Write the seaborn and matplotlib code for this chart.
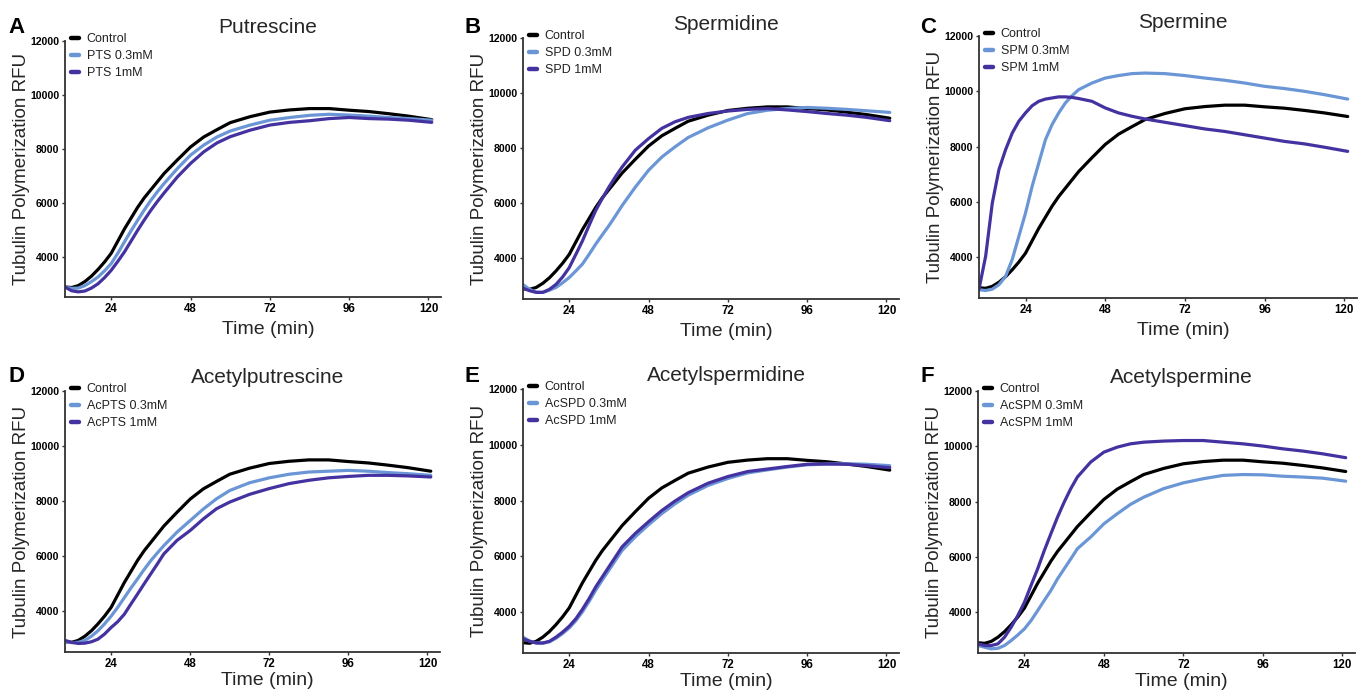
import matplotlib
matplotlib.use("Agg")
import matplotlib.pyplot as plt
import seaborn as sns
import pandas as pd
from matplotlib import font_manager

# ---------------- data ----------------
time_min = [10, 12, 14, 16, 18, 20, 22, 24, 26, 28, 30, 32, 34, 36, 38, 40,
            44, 48, 52, 56, 60, 66, 72, 78, 84, 90, 96, 102, 108, 114, 121]

control = [2900, 2880, 2950, 3100, 3300, 3550, 3830, 4150, 4600, 5050, 5450, 5850, 6200, 6500, 6800, 7100,
           7600, 8080, 8450, 8720, 8980, 9200, 9370, 9450, 9500, 9500, 9440, 9390, 9310, 9220, 9090]

pts_03 = [2900, 2850, 2860, 2950, 3100, 3270, 3500, 3770, 4150, 4570, 4980, 5370, 5750, 6110, 6430, 6730,
          7280, 7780, 8150, 8450, 8670, 8890, 9070, 9170, 9250, 9290, 9260, 9220, 9170, 9130, 9070]
pts_1 = [2900, 2760, 2720, 2750, 2860, 3020, 3250, 3520, 3850, 4200, 4600, 5000, 5380, 5740, 6070, 6380,
         6970, 7470, 7900, 8230, 8460, 8700, 8890, 8990, 9050, 9130, 9170, 9130, 9110, 9070, 8990]

spd_03 = [3050, 2880, 2780, 2770, 2850, 2950, 3120, 3310, 3550, 3800, 4150, 4520, 4860, 5190, 5550, 5920,
          6590, 7200, 7680, 8050, 8390, 8740, 9020, 9260, 9380, 9440, 9480, 9450, 9410, 9360, 9300]
spd_1 = [2920, 2830, 2770, 2770, 2880, 3060, 3330, 3670, 4150, 4640, 5200, 5740, 6180, 6590, 6970, 7320,
         7930, 8350, 8720, 8960, 9120, 9260, 9350, 9410, 9440, 9390, 9330, 9260, 9200, 9120, 9000]

spm_03 = [2830, 2800, 2850, 3010, 3310, 3920, 4760, 5600, 6570, 7410, 8250, 8800, 9220, 9580, 9840, 10060,
          10300, 10480, 10570, 10640, 10660, 10640, 10570, 10480, 10400, 10300, 10180, 10100, 10000, 9880, 9720]
spm_1 = [2850, 4040, 5960, 7170, 7890, 8490, 8920, 9220, 9480, 9640, 9720, 9760, 9800, 9800, 9780, 9740,
         9640, 9400, 9220, 9100, 9000, 8880, 8760, 8640, 8550, 8430, 8310, 8190, 8100, 7980, 7830]

acpts_03 = [2900, 2870, 2880, 2950, 3100, 3300, 3550, 3830, 4150, 4500, 4850, 5180, 5520, 5840, 6120, 6390,
            6880, 7300, 7720, 8090, 8390, 8670, 8850, 8980, 9060, 9090, 9120, 9090, 9040, 9000, 8940]
acpts_1 = [2950, 2880, 2840, 2850, 2900, 2995, 3180, 3420, 3630, 3900, 4270, 4630, 5000, 5360, 5720, 6090,
           6580, 6940, 7360, 7730, 7970, 8250, 8460, 8640, 8760, 8850, 8900, 8940, 8940, 8920, 8880]

acspd_03 = [3100, 2960, 2890, 2880, 2930, 3060, 3230, 3430, 3690, 4010, 4380, 4780, 5150, 5500, 5860, 6210,
            6700, 7130, 7530, 7880, 8190, 8540, 8790, 8990, 9100, 9200, 9280, 9310, 9320, 9300, 9250]
acspd_1 = [3040, 2950, 2890, 2890, 2950, 3100, 3280, 3490, 3760, 4100, 4480, 4900, 5260, 5620, 5980, 6340,
           6820, 7240, 7640, 7980, 8280, 8620, 8860, 9040, 9130, 9220, 9300, 9310, 9300, 9250, 9180]

acspm_03 = [2800, 2740, 2680, 2700, 2800, 2980, 3180, 3400, 3700, 4060, 4430, 4790, 5210, 5570, 5930, 6300,
            6720, 7200, 7560, 7900, 8160, 8470, 8680, 8830, 8950, 8980, 8970, 8920, 8890, 8850, 8740]
acspm_1 = [2860, 2800, 2800, 2860, 3100, 3460, 3880, 4360, 4970, 5570, 6230, 6840, 7440, 7980, 8470, 8890,
           9430, 9790, 9970, 10090, 10150, 10190, 10210, 10210, 10150, 10090, 10010, 9910, 9830, 9730, 9590]

panel_letters = ["A", "B", "C", "D", "E", "F"]
panel_titles = ["Putrescine", "Spermidine", "Spermine",
                "Acetylputrescine", "Acetylspermidine", "Acetylspermine"]
abbrevs = ["PTS", "SPD", "SPM", "AcPTS", "AcSPD", "AcSPM"]
low_dose = [pts_03, spd_03, spm_03, acpts_03, acspd_03, acspm_03]
high_dose = [pts_1, spd_1, spm_1, acpts_1, acspd_1, acspm_1]
x_ticks = [24, 48, 72, 96, 120]
y_ticks = [4000, 6000, 8000, 10000, 12000]

# ---------------- style ----------------
sns.set_theme(style="ticks")
names = {f.name for f in font_manager.fontManager.ttflist}
plt.rcParams['font.family'] = ['Liberation Sans', 'DejaVu Sans']
narrow = "Liberation Sans Narrow" in names
tick_family = ['Liberation Sans Narrow', 'Liberation Sans'] if narrow else ['Liberation Sans', 'DejaVu Sans']
ytick_size = 9 if narrow else 7.6
xtick_size = 9.5 if narrow else 8.3

colors = ["#000000", "#6b96d6", "#4432a0"]
axis_color = "#333333"

W, H = 1367, 692
fig = plt.figure(figsize=(W / 100, H / 100), dpi=100)
fig.patch.set_facecolor("white")

# axes boxes in pixels: left, right, top, bottom
boxes = [(65, 441, 41, 297), (523, 899, 38, 299), (979, 1357, 36, 298),
         (65, 440, 391, 652), (523, 899, 389, 653), (978, 1355, 391, 653)]
letter_pos = [(8, 33), (465, 33), (920, 33), (9, 382), (465, 382), (921, 382)]
xlabel_offset = [-0.125, -0.125, -0.125, -0.108, -0.108, -0.108]

for i in range(6):
    l, r, t, b = boxes[i]
    ax = fig.add_axes([l / W, 1 - b / H, (r - l) / W, (b - t) / H])
    labels = ["Control", f"{abbrevs[i]} 0.3mM", f"{abbrevs[i]} 1mM"]
    n = len(time_min)
    df = pd.DataFrame({
        "Time": time_min * 3,
        "RFU": control + low_dose[i] + high_dose[i],
        "cond": [labels[0]] * n + [labels[1]] * n + [labels[2]] * n,
    })
    sns.lineplot(data=df, x="Time", y="RFU", hue="cond", hue_order=labels,
                 palette=colors, linewidth=2.3, ax=ax, legend=True)
    ax.set_xlim(10, 123.8)
    ax.set_ylim(2530, 12000)
    ax.set_xticks(x_ticks)
    ax.set_yticks(y_ticks)
    ax.set_xticklabels([str(v) for v in x_ticks])
    ax.set_yticklabels([str(v) for v in y_ticks])
    for lab in ax.get_xticklabels():
        lab.set_fontfamily(tick_family)
        lab.set_fontweight("bold")
        lab.set_fontsize(xtick_size)
    for lab in ax.get_yticklabels():
        lab.set_fontfamily(tick_family)
        lab.set_fontweight("bold")
        lab.set_fontsize(ytick_size)
    ax.tick_params(axis="both", length=2.5, width=1, color=axis_color, pad=1.5, labelcolor="black")
    sns.despine(ax=ax)
    for s in ["left", "bottom"]:
        ax.spines[s].set_color(axis_color)
        ax.spines[s].set_linewidth(1.3)

    ax.set_xlabel("Time (min)", fontsize=14)
    ax.xaxis.label.set_va("center")
    ax.xaxis.set_label_coords(0.54, xlabel_offset[i])
    ax.set_ylabel("Tubulin Polymerization RFU", fontsize=13.5)
    ax.yaxis.label.set_va("center")
    ax.yaxis.set_label_coords(-0.115, 0.5)

    ax.text(0.54, 1.052, panel_titles[i], transform=ax.transAxes,
            ha="center", va="center", fontsize=15)

    handles, labs = ax.get_legend_handles_labels()
    leg = ax.legend(handles, labs, loc="upper left", bbox_to_anchor=(0.016, 1.03),
                    frameon=False, fontsize=9, handlelength=0.65, handletextpad=0.6,
                    labelspacing=0.4, borderaxespad=0, borderpad=0)
    for h in leg.legend_handles:
        h.set_linewidth(3.2)
    for txt in leg.get_texts():
        txt.set_color("#222222")

    lx, ly = letter_pos[i]
    fig.text(lx / W, 1 - ly / H, panel_letters[i], ha="left", va="baseline",
             fontsize=16, fontweight="bold", color="black")

fig.savefig("out.png", dpi=100, facecolor="white")
